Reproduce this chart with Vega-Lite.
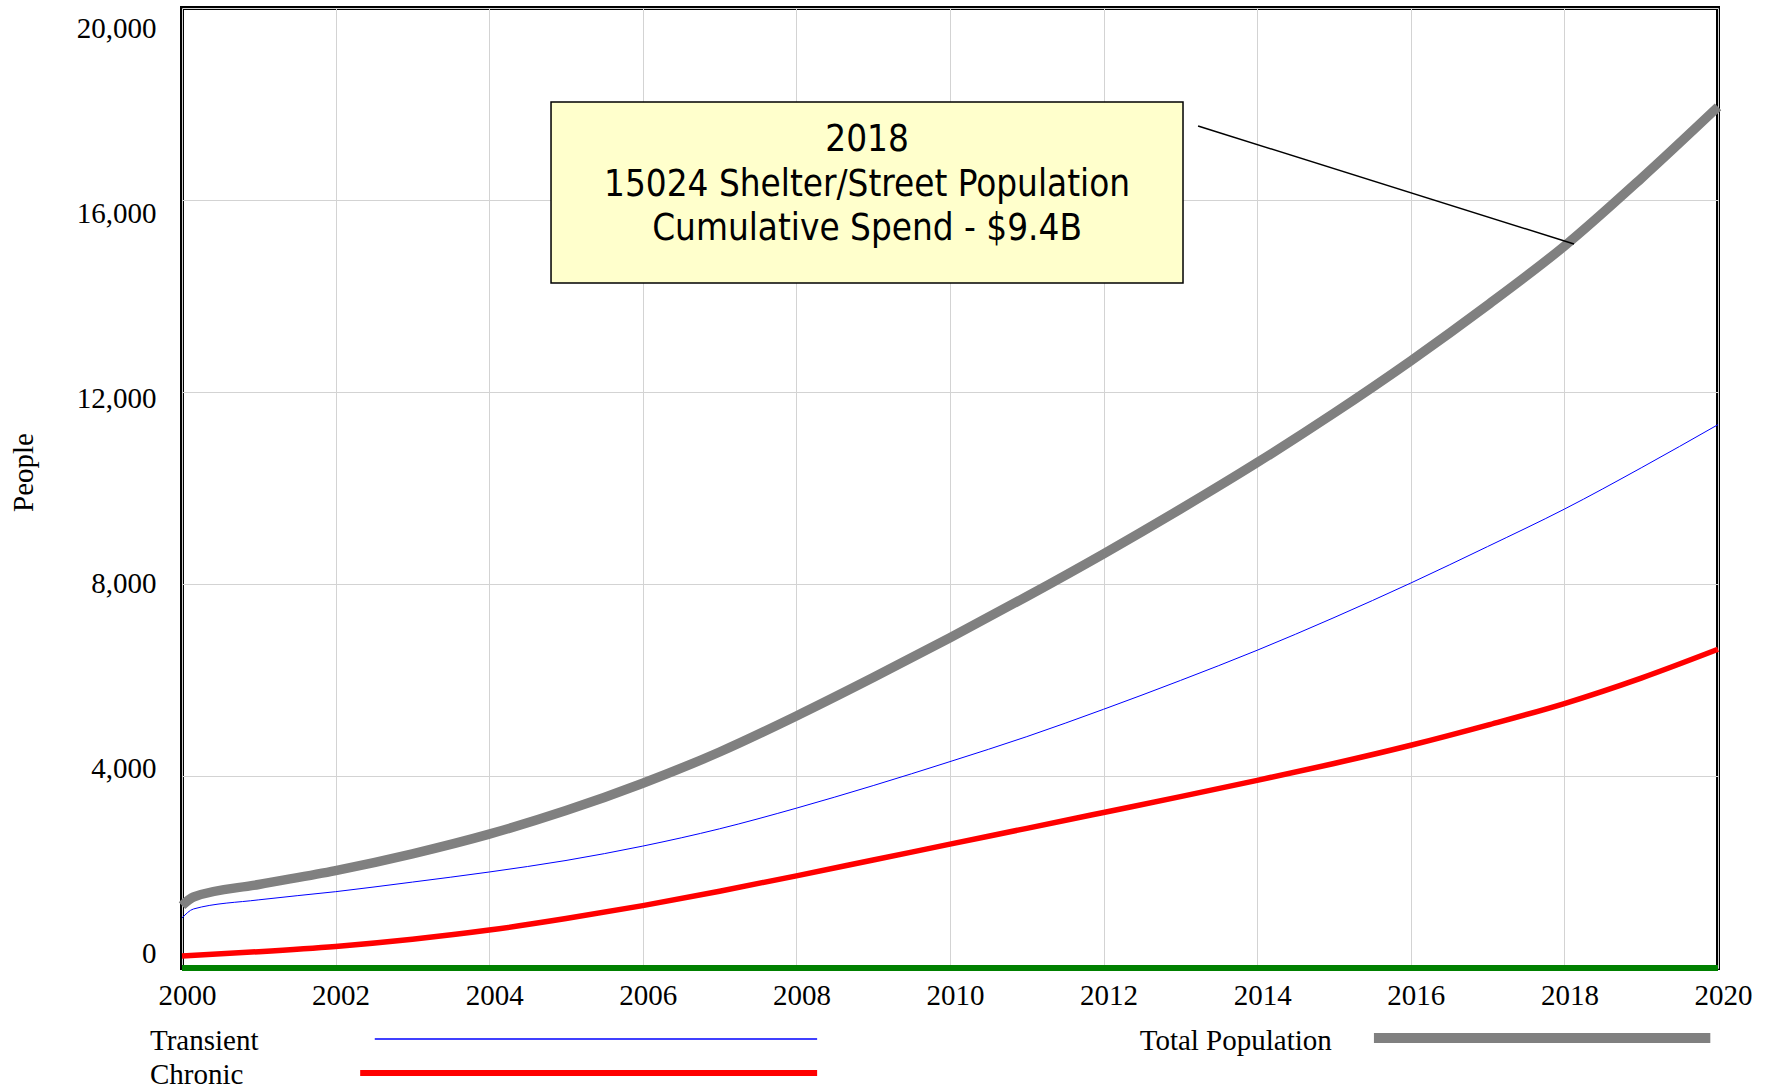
{
  "$schema": "https://vega.github.io/schema/vega-lite/v6.json",
  "width": 1536,
  "height": 960,
  "autosize": {"type": "none"},
  "padding": {"left": 182, "top": 8, "right": 51, "bottom": 122},
  "background": "white",
  "config": {
    "view": {"stroke": "black", "strokeWidth": 4},
    "axis": {
      "labelFont": "Liberation Serif",
      "labelFontSize": 29,
      "labelColor": "black",
      "titleFont": "Liberation Serif",
      "titleFontSize": 29,
      "titleFontWeight": "normal",
      "titleColor": "black",
      "gridColor": "#d3d3d3",
      "gridWidth": 1,
      "domain": false,
      "ticks": false,
      "tickSize": 0,
      "labelFlush": false,
      "labelOverlap": false
    }
  },
  "datasets": {
    "lines": [
      {"year": 2000, "series": "Other", "people": 0},
      {"year": 2020, "series": "Other", "people": 0},
      {"year": 2000, "series": "Transient", "people": 1040},
      {"year": 2000.15, "series": "Transient", "people": 1230},
      {"year": 2001, "series": "Transient", "people": 1420},
      {"year": 2002, "series": "Transient", "people": 1590},
      {"year": 2003, "series": "Transient", "people": 1790},
      {"year": 2004, "series": "Transient", "people": 2000},
      {"year": 2005, "series": "Transient", "people": 2240},
      {"year": 2006, "series": "Transient", "people": 2540},
      {"year": 2007, "series": "Transient", "people": 2900},
      {"year": 2008, "series": "Transient", "people": 3330},
      {"year": 2009, "series": "Transient", "people": 3800},
      {"year": 2010, "series": "Transient", "people": 4300},
      {"year": 2011, "series": "Transient", "people": 4820},
      {"year": 2012, "series": "Transient", "people": 5390},
      {"year": 2013, "series": "Transient", "people": 5990},
      {"year": 2014, "series": "Transient", "people": 6620},
      {"year": 2015, "series": "Transient", "people": 7300},
      {"year": 2016, "series": "Transient", "people": 8020},
      {"year": 2017, "series": "Transient", "people": 8780},
      {"year": 2018, "series": "Transient", "people": 9560},
      {"year": 2019, "series": "Transient", "people": 10420},
      {"year": 2020, "series": "Transient", "people": 11320},
      {"year": 2000, "series": "Chronic", "people": 250},
      {"year": 2001, "series": "Chronic", "people": 340},
      {"year": 2002, "series": "Chronic", "people": 450},
      {"year": 2003, "series": "Chronic", "people": 600},
      {"year": 2004, "series": "Chronic", "people": 790},
      {"year": 2005, "series": "Chronic", "people": 1030},
      {"year": 2006, "series": "Chronic", "people": 1300},
      {"year": 2007, "series": "Chronic", "people": 1600},
      {"year": 2008, "series": "Chronic", "people": 1920},
      {"year": 2009, "series": "Chronic", "people": 2250},
      {"year": 2010, "series": "Chronic", "people": 2580},
      {"year": 2011, "series": "Chronic", "people": 2910},
      {"year": 2012, "series": "Chronic", "people": 3240},
      {"year": 2013, "series": "Chronic", "people": 3570},
      {"year": 2014, "series": "Chronic", "people": 3910},
      {"year": 2015, "series": "Chronic", "people": 4260},
      {"year": 2016, "series": "Chronic", "people": 4640},
      {"year": 2017, "series": "Chronic", "people": 5060},
      {"year": 2018, "series": "Chronic", "people": 5510},
      {"year": 2019, "series": "Chronic", "people": 6040},
      {"year": 2020, "series": "Chronic", "people": 6640},
      {"year": 2000, "series": "Total Population", "people": 1300},
      {"year": 2000.15, "series": "Total Population", "people": 1480},
      {"year": 2001, "series": "Total Population", "people": 1740},
      {"year": 2002, "series": "Total Population", "people": 2030},
      {"year": 2003, "series": "Total Population", "people": 2380},
      {"year": 2004, "series": "Total Population", "people": 2790},
      {"year": 2005, "series": "Total Population", "people": 3280},
      {"year": 2006, "series": "Total Population", "people": 3850},
      {"year": 2007, "series": "Total Population", "people": 4500},
      {"year": 2008, "series": "Total Population", "people": 5250},
      {"year": 2009, "series": "Total Population", "people": 6050},
      {"year": 2010, "series": "Total Population", "people": 6880},
      {"year": 2011, "series": "Total Population", "people": 7740},
      {"year": 2012, "series": "Total Population", "people": 8630},
      {"year": 2013, "series": "Total Population", "people": 9560},
      {"year": 2014, "series": "Total Population", "people": 10530},
      {"year": 2015, "series": "Total Population", "people": 11560},
      {"year": 2016, "series": "Total Population", "people": 12650},
      {"year": 2017, "series": "Total Population", "people": 13810},
      {"year": 2018, "series": "Total Population", "people": 15040},
      {"year": 2019, "series": "Total Population", "people": 16450},
      {"year": 2020, "series": "Total Population", "people": 17940}
    ]
  },
  "layer": [
    {
      "data": {"name": "lines"},
      "transform": [{"filter": "datum.series === 'Transient'"}],
      "mark": {"type": "line", "interpolate": "monotone", "strokeWidth": 1, "color": "#0000FF"},
      "encoding": {
        "x": {
          "field": "year",
          "type": "quantitative",
          "scale": {"domain": [2000, 2020], "nice": false, "zero": false},
          "axis": {
            "values": [2000, 2002, 2004, 2006, 2008, 2010, 2012, 2014, 2016, 2018, 2020],
            "format": "d",
            "title": null,
            "labelPadding": 27,
            "labelOffset": 5,
            "labelBaseline": "middle"
          }
        },
        "y": {
          "field": "people",
          "type": "quantitative",
          "scale": {"domain": [0, 20000], "nice": false},
          "axis": {
            "values": [0, 4000, 8000, 12000, 16000, 20000],
            "format": ",d",
            "title": "People",
            "labelPadding": 26,
            "labelOffset": {"expr": "datum.value * 0.00175 - 15"},
            "labelBaseline": "middle",
            "titleX": -159,
            "titleY": 464,
            "titleAngle": -90,
            "titleAlign": "center",
            "titleBaseline": "middle"
          }
        }
      }
    },
    {
      "data": {"name": "lines"},
      "transform": [{"filter": "datum.series === 'Chronic'"}],
      "mark": {"type": "line", "interpolate": "monotone", "strokeWidth": 5.5, "color": "#FF0000"},
      "encoding": {
        "x": {"field": "year", "type": "quantitative"},
        "y": {"field": "people", "type": "quantitative"}
      }
    },
    {
      "data": {"name": "lines"},
      "transform": [{"filter": "datum.series === 'Other'"}],
      "mark": {"type": "line", "strokeWidth": 6, "color": "#008000", "strokeCap": "butt"},
      "encoding": {
        "x": {"field": "year", "type": "quantitative"},
        "y": {"field": "people", "type": "quantitative"}
      }
    },
    {
      "data": {"name": "lines"},
      "transform": [{"filter": "datum.series === 'Total Population'"}],
      "mark": {"type": "line", "interpolate": "monotone", "strokeWidth": 9.5, "color": "#808080", "strokeCap": "butt"},
      "encoding": {
        "x": {"field": "year", "type": "quantitative"},
        "y": {"field": "people", "type": "quantitative"}
      }
    },
    {
      "data": {"values": [{"label": "note"}]},
      "mark": {"type": "rect", "fill": "#FFFFCC", "stroke": "black", "strokeWidth": 1.5},
      "encoding": {
        "x": {"datum": 2004.805, "type": "quantitative"},
        "x2": {"datum": 2013.034},
        "y": {"datum": 18042, "type": "quantitative"},
        "y2": {"datum": 14271}
      }
    },
    {
      "data": {"values": [{"label": "note"}]},
      "mark": {
        "type": "text",
        "text": ["2018", "15024 Shelter/Street Population", "Cumulative Spend - $9.4B"],
        "font": "DejaVu Sans Condensed, Liberation Sans, sans-serif",
        "fontSize": 36.5,
        "lineHeight": 44.5,
        "align": "center",
        "baseline": "middle",
        "color": "black"
      },
      "encoding": {
        "x": {"datum": 2008.92, "type": "quantitative"},
        "y": {"datum": 17244, "type": "quantitative"}
      }
    },
    {
      "data": {"values": [{"label": "note"}]},
      "mark": {"type": "rule", "color": "black", "strokeWidth": 1.5},
      "encoding": {
        "x": {"datum": 2013.23, "type": "quantitative"},
        "y": {"datum": 17542, "type": "quantitative"},
        "x2": {"datum": 2018.125},
        "y2": {"datum": 15083}
      }
    },
    {
      "data": {"values": [{"series": "Transient"}]},
      "mark": {"type": "rule", "strokeWidth": 1.5, "color": "#0000FF"},
      "encoding": {
        "x": {"datum": 2002.51, "type": "quantitative"},
        "x2": {"datum": 2008.27},
        "y": {"datum": -1479, "type": "quantitative"}
      }
    },
    {
      "data": {"values": [{"series": "Chronic"}]},
      "mark": {"type": "rule", "strokeWidth": 6, "color": "#FF0000"},
      "encoding": {
        "x": {"datum": 2002.32, "type": "quantitative"},
        "x2": {"datum": 2008.27},
        "y": {"datum": -2188, "type": "quantitative"}
      }
    },
    {
      "data": {"values": [{"series": "Total Population"}]},
      "mark": {"type": "rule", "strokeWidth": 10, "color": "#808080"},
      "encoding": {
        "x": {"datum": 2015.52, "type": "quantitative"},
        "x2": {"datum": 2019.9},
        "y": {"datum": -1458, "type": "quantitative"}
      }
    },
    {
      "data": {"values": [{"series": "Transient"}]},
      "mark": {"type": "text", "align": "left", "baseline": "middle", "font": "Liberation Serif", "fontSize": 29, "color": "black"},
      "encoding": {
        "x": {"datum": 1999.583, "type": "quantitative"},
        "y": {"datum": -1521, "type": "quantitative"},
        "text": {"field": "series"}
      }
    },
    {
      "data": {"values": [{"series": "Chronic"}]},
      "mark": {"type": "text", "align": "left", "baseline": "middle", "font": "Liberation Serif", "fontSize": 29, "color": "black"},
      "encoding": {
        "x": {"datum": 1999.583, "type": "quantitative"},
        "y": {"datum": -2229, "type": "quantitative"},
        "text": {"field": "series"}
      }
    },
    {
      "data": {"values": [{"series": "Total Population"}]},
      "mark": {"type": "text", "align": "left", "baseline": "middle", "font": "Liberation Serif", "fontSize": 29, "color": "black"},
      "encoding": {
        "x": {"datum": 2012.47, "type": "quantitative"},
        "y": {"datum": -1521, "type": "quantitative"},
        "text": {"field": "series"}
      }
    }
  ]
}
